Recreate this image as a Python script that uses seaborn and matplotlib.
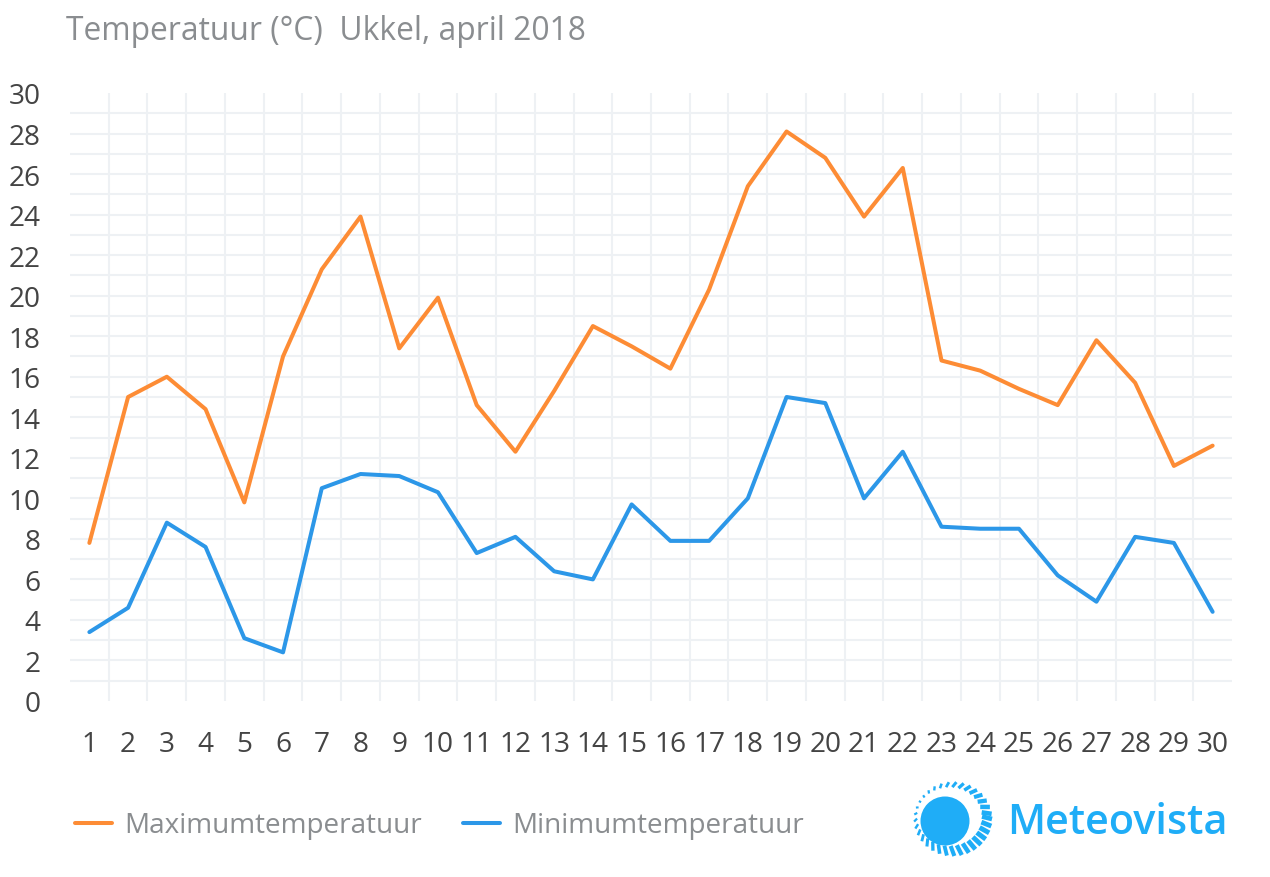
import numpy as np
import pandas as pd
import seaborn as sns
import matplotlib.pyplot as plt
from matplotlib.ticker import FixedLocator

days = list(range(1, 31))
max_temp = [7.8, 15.0, 16.0, 14.4, 9.8, 17.0, 21.3, 23.9, 17.4, 19.9, 14.6, 12.3, 15.3, 18.5, 17.5,
            16.4, 20.3, 25.4, 28.1, 26.8, 23.9, 26.3, 16.8, 16.3, 15.4, 14.6, 17.8, 15.7, 11.6, 12.6]
min_temp = [3.4, 4.6, 8.8, 7.6, 3.1, 2.4, 10.5, 11.2, 11.1, 10.3, 7.3, 8.1, 6.4, 6.0, 9.7,
            7.9, 7.9, 10.0, 15.0, 14.7, 10.0, 12.3, 8.6, 8.5, 8.5, 6.2, 4.9, 8.1, 7.8, 4.4]
series_names = ['Maximumtemperatuur', 'Minimumtemperatuur']
title_text = 'Temperatuur (°C)  Ukkel, april 2018'
brand = 'Meteovista'
y_ticks = list(range(0, 31, 2))

W, H = 1270, 878
sns.set_theme(style='white')
plt.rcParams['font.family'] = ['Open Sans', 'DejaVu Sans']
fig = plt.figure(figsize=(W / 100, H / 100), dpi=100)
L, R, T, B = 70, 1232, 94, 702
ax = fig.add_axes([L / W, 1 - B / H, (R - L) / W, (B - T) / H])

df = pd.DataFrame({
    'day': days * 2,
    'temp': max_temp + min_temp,
    'series': [series_names[0]] * 30 + [series_names[1]] * 30,
})
sns.lineplot(data=df, x='day', y='temp', hue='series',
             palette=['#fd8c35', '#2c97e8'], linewidth=2.9, ax=ax, zorder=3)
ax.set_xlim(0.5, 30.5)
ax.set_ylim(0, 30)
ax.set_xlabel('')
ax.set_ylabel('')
for s in ax.spines.values():
    s.set_visible(False)

ax.set_xticks(days)
ax.set_yticks(y_ticks)
ax.xaxis.set_minor_locator(FixedLocator(np.arange(1.5, 30, 1)))
ax.yaxis.set_minor_locator(FixedLocator(np.arange(1, 30, 1)))
ax.yaxis.remove_overlapping_locs = False
ax.grid(False)
ax.grid(True, which='minor', color='#eef1f4', linewidth=1.5)
ax.set_axisbelow(True)
ax.tick_params(which='both', length=0)
ax.tick_params(axis='x', which='major', labelsize=20.2, labelcolor='#444444', pad=20.8)
ax.tick_params(axis='y', which='major', labelsize=20.2, labelcolor='#444444', pad=21)

fig.text(66 / W, 1 - 32 / H, title_text, fontsize=22.9, color='#8a8d90', va='center', ha='left')

handles, labels = ax.get_legend_handles_labels()
leg = ax.legend(handles, labels, loc='center left',
                bbox_to_anchor=(75 / W, 1 - 826.5 / H), bbox_transform=fig.transFigure,
                ncol=2, frameon=False, fontsize=20.1, labelcolor='#8a8d90',
                handlelength=1.32, handletextpad=0.43, columnspacing=1.5,
                borderpad=0, borderaxespad=0)

# logo, in pixel coordinates of the figure
ov = fig.add_axes([0, 0, 1, 1], zorder=5)
ov.set_xlim(0, W)
ov.set_ylim(H, 0)
ov.axis('off')
ov.add_patch(plt.Circle((945, 822), 24.5, color='#1fadf7', lw=0))
for a in np.deg2rad(np.arange(0, 360, 11)):
    ca, sa = np.cos(a), np.sin(a)
    heavy = (1 + np.cos(a - np.deg2rad(25))) / 2
    ov.plot([949.5 + 32.5 * ca, 953 + 39 * ca], [817.5 + 29.5 * sa, 820 + 37 * sa],
            color='#1fadf7', lw=1.5 + 2.0 * heavy, solid_capstyle='butt')
ov.text(1007, 823, brand, fontsize=29.8, color='#1fadf7', va='center', ha='left', fontweight='semibold')

fig.savefig('out.png', dpi=100)
